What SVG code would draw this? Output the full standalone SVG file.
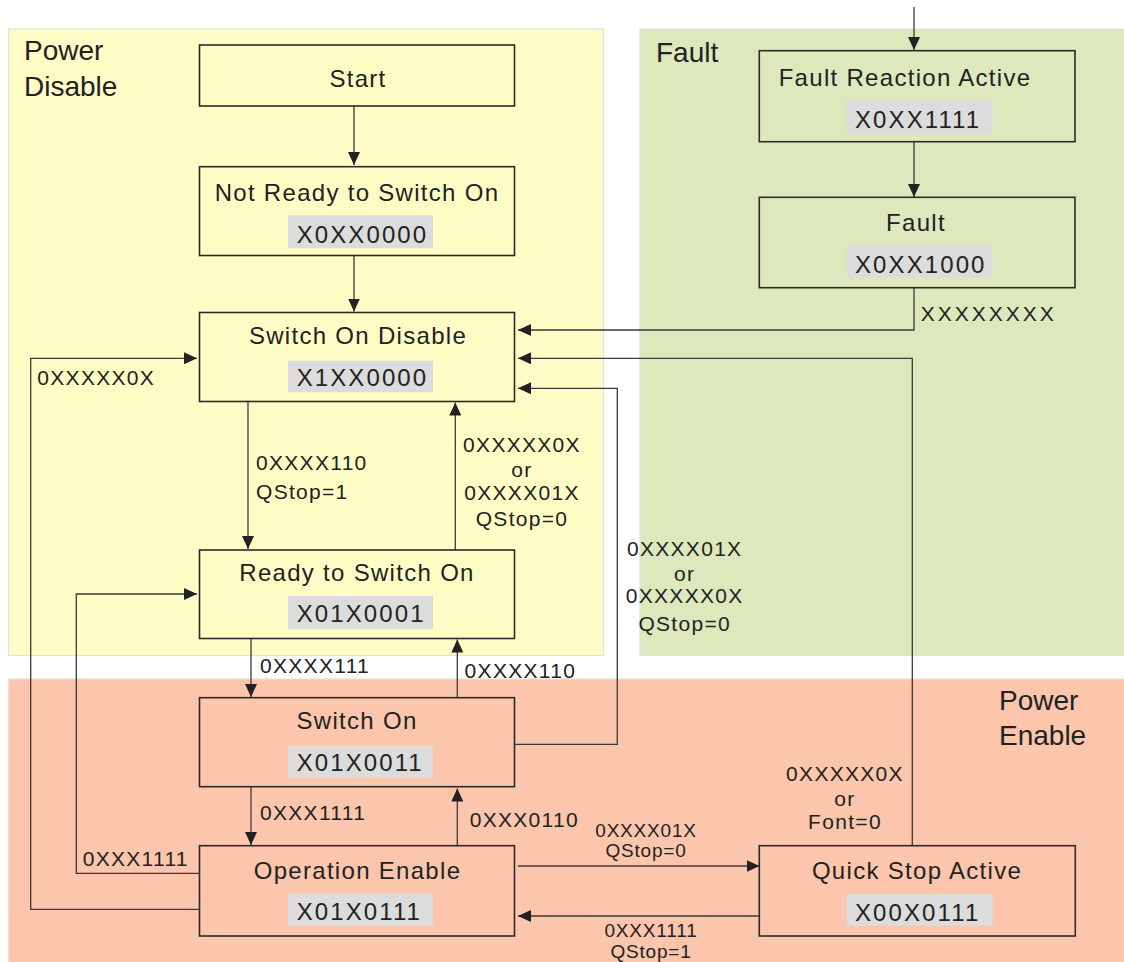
<svg xmlns="http://www.w3.org/2000/svg" width="1124" height="962" viewBox="0 0 1124 962">
<defs>
<marker id="ah" viewBox="0 0 13 12" refX="13" refY="6" markerWidth="13" markerHeight="12" markerUnits="userSpaceOnUse" orient="auto">
<path d="M0,0 L13,6 L0,12 z" fill="#222"/>
</marker>
<style>
text{font-family:"Liberation Sans",Arial,sans-serif;fill:#222}
.region{font-size:28px}
.box{stroke:#2a2a2a;stroke-width:1.6}
.title{font-size:24px;letter-spacing:1.3px;text-anchor:middle}
.codebg{fill:#dcdcdc}
.code{font-size:24px;letter-spacing:2.1px}
.lbl{font-size:21px;letter-spacing:1.3px}
.lbls{font-size:19px;letter-spacing:0.8px;text-anchor:middle}
.mid{text-anchor:middle}
.conn path{fill:none;stroke:#3a3a3a;stroke-width:1.3}
</style>
</defs>
<rect width="1124" height="962" fill="#ffffff"/>
<g id="regions">
<rect x="8.5" y="29" width="595" height="626.5" fill="#fffdc6" stroke="#e2e2dc" stroke-width="1.2"/>
<rect x="640" y="29" width="490" height="626.5" fill="#dde9bd" stroke="#e2e2dc" stroke-width="1.2"/>
<rect x="8.5" y="679" width="1122" height="290" fill="#fcc6ad" stroke="#e2e2dc" stroke-width="1.2"/>
<text class="region" x="24" y="60">Power</text>
<text class="region" x="24" y="95.5">Disable</text>
<text class="region" x="656" y="62">Fault</text>
<text class="region" x="999" y="710">Power</text>
<text class="region" x="999" y="745">Enable</text>
</g>
<g class="conn">
<path d="M354,106 V165" marker-end="url(#ah)"/>
<path d="M354,255.5 V311.5" marker-end="url(#ah)"/>
<path d="M914,7 V50" marker-end="url(#ah)"/>
<path d="M914,141.7 V197" marker-end="url(#ah)"/>
<path d="M914,287.7 V330 H518" marker-end="url(#ah)"/>
<path d="M912.3,845.7 V358.3 H518" marker-end="url(#ah)"/>
<path d="M515,744.3 H617.3 V388.3 H518" marker-end="url(#ah)"/>
<path d="M248,401.5 V549" marker-end="url(#ah)"/>
<path d="M455.3,550 V402.5" marker-end="url(#ah)"/>
<path d="M199.3,909.3 H30.7 V358.3 H197" marker-end="url(#ah)"/>
<path d="M199.3,873.3 H76.3 V594 H197" marker-end="url(#ah)"/>
<path d="M251,638.5 V697" marker-end="url(#ah)"/>
<path d="M457.3,697.7 V639.5" marker-end="url(#ah)"/>
<path d="M251,786.7 V845" marker-end="url(#ah)"/>
<path d="M457.3,845.7 V788.5" marker-end="url(#ah)"/>
<path d="M518,866 H759.5" marker-end="url(#ah)"/>
<path d="M759.3,916 H518" marker-end="url(#ah)"/>
</g>
<g id="labels">
<text class="lbl" x="37.3" y="385">0XXXXX0X</text>
<text class="lbl" x="256" y="470">0XXXX110</text>
<text class="lbl" x="256" y="499">QStop=1</text>
<text class="lbl mid" x="522" y="452.3">0XXXXX0X</text>
<text class="lbl mid" x="522" y="476.5">or</text>
<text class="lbl mid" x="522" y="500">0XXXX01X</text>
<text class="lbl mid" x="522" y="526">QStop=0</text>
<text class="lbl" x="260" y="673.3">0XXXX111</text>
<text class="lbl" x="464.6" y="678.3">0XXXX110</text>
<text class="lbl" x="260" y="820">0XXX1111</text>
<text class="lbl" x="469.7" y="826.7">0XXX0110</text>
<text class="lbl" x="82.7" y="865.7">0XXX1111</text>
<text class="lbl" x="920.7" y="320.7" style="letter-spacing:3px">XXXXXXXX</text>
<text class="lbl mid" x="684.7" y="556">0XXXX01X</text>
<text class="lbl mid" x="684.7" y="580.7">or</text>
<text class="lbl mid" x="684.7" y="603.3">0XXXXX0X</text>
<text class="lbl mid" x="684.7" y="630.7">QStop=0</text>
<text class="lbl mid" x="845" y="780.7">0XXXXX0X</text>
<text class="lbl mid" x="845" y="805.7">or</text>
<text class="lbl mid" x="845" y="829.3">Font=0</text>
<text class="lbls" x="646" y="836.7">0XXXX01X</text>
<text class="lbls" x="646" y="856.7">QStop=0</text>
<text class="lbls" x="651" y="937">0XXX1111</text>
<text class="lbls" x="651" y="957.5">QStop=1</text>
</g>
<g id="start">
<rect class="box" x="199.5" y="45" width="315" height="61" fill="#fffdc6"/>
<text class="title" x="358" y="86.7">Start</text>
</g>
<g id="not-ready">
<rect class="box" x="199.5" y="166.7" width="315" height="88.8" fill="#fffdc6"/>
<text class="title" x="357" y="201.3">Not Ready to Switch On</text>
<rect class="codebg" x="288" y="215.3" width="145" height="33"/>
<text class="code" x="296.7" y="243.3">X0XX0000</text>
</g>
<g id="switch-on-disable">
<rect class="box" x="199.5" y="312.5" width="315" height="89" fill="#fffdc6"/>
<text class="title" x="358" y="344">Switch On Disable</text>
<rect class="codebg" x="288" y="360.7" width="145" height="31.6"/>
<text class="code" x="296.7" y="385.7">X1XX0000</text>
</g>
<g id="ready">
<rect class="box" x="199.5" y="550" width="315" height="88.5" fill="#fffdc6"/>
<text class="title" x="357" y="580.7">Ready to Switch On</text>
<rect class="codebg" x="288" y="596" width="145" height="33.3"/>
<text class="code" x="296.7" y="621.7">X01X0001</text>
</g>
<g id="switch-on">
<rect class="box" x="199.5" y="697.7" width="315" height="89" fill="#fcc6ad"/>
<text class="title" x="357" y="729.3">Switch On</text>
<rect class="codebg" x="288" y="745.7" width="145" height="31.6"/>
<text class="code" x="296.7" y="771">X01X0011</text>
</g>
<g id="operation-enable">
<rect class="box" x="199.5" y="845.7" width="315" height="90.3" fill="#fcc6ad"/>
<text class="title" x="357.5" y="879.3">Operation Enable</text>
<rect class="codebg" x="288" y="893.3" width="145" height="32.4"/>
<text class="code" x="296.7" y="920">X01X0111</text>
</g>
<g id="fault-reaction-active">
<rect class="box" x="759.3" y="50.7" width="315.7" height="91" fill="#dde9bd"/>
<text class="title" x="905" y="86">Fault Reaction Active</text>
<rect class="codebg" x="846.7" y="100" width="146" height="34.3"/>
<text class="code" x="855" y="128.3">X0XX1111</text>
</g>
<g id="fault">
<rect class="box" x="759.3" y="197.3" width="315.7" height="90.4" fill="#dde9bd"/>
<text class="title" x="916" y="230.7">Fault</text>
<rect class="codebg" x="846.7" y="245.7" width="146" height="31.6"/>
<text class="code" x="855" y="272.7">X0XX1000</text>
</g>
<g id="quick-stop-active">
<rect class="box" x="759.3" y="845.7" width="316" height="90.3" fill="#fcc6ad"/>
<text class="title" x="917" y="879.3">Quick Stop Active</text>
<rect class="codebg" x="846.7" y="894" width="146" height="31.7"/>
<text class="code" x="855" y="921">X00X0111</text>
</g>
</svg>
